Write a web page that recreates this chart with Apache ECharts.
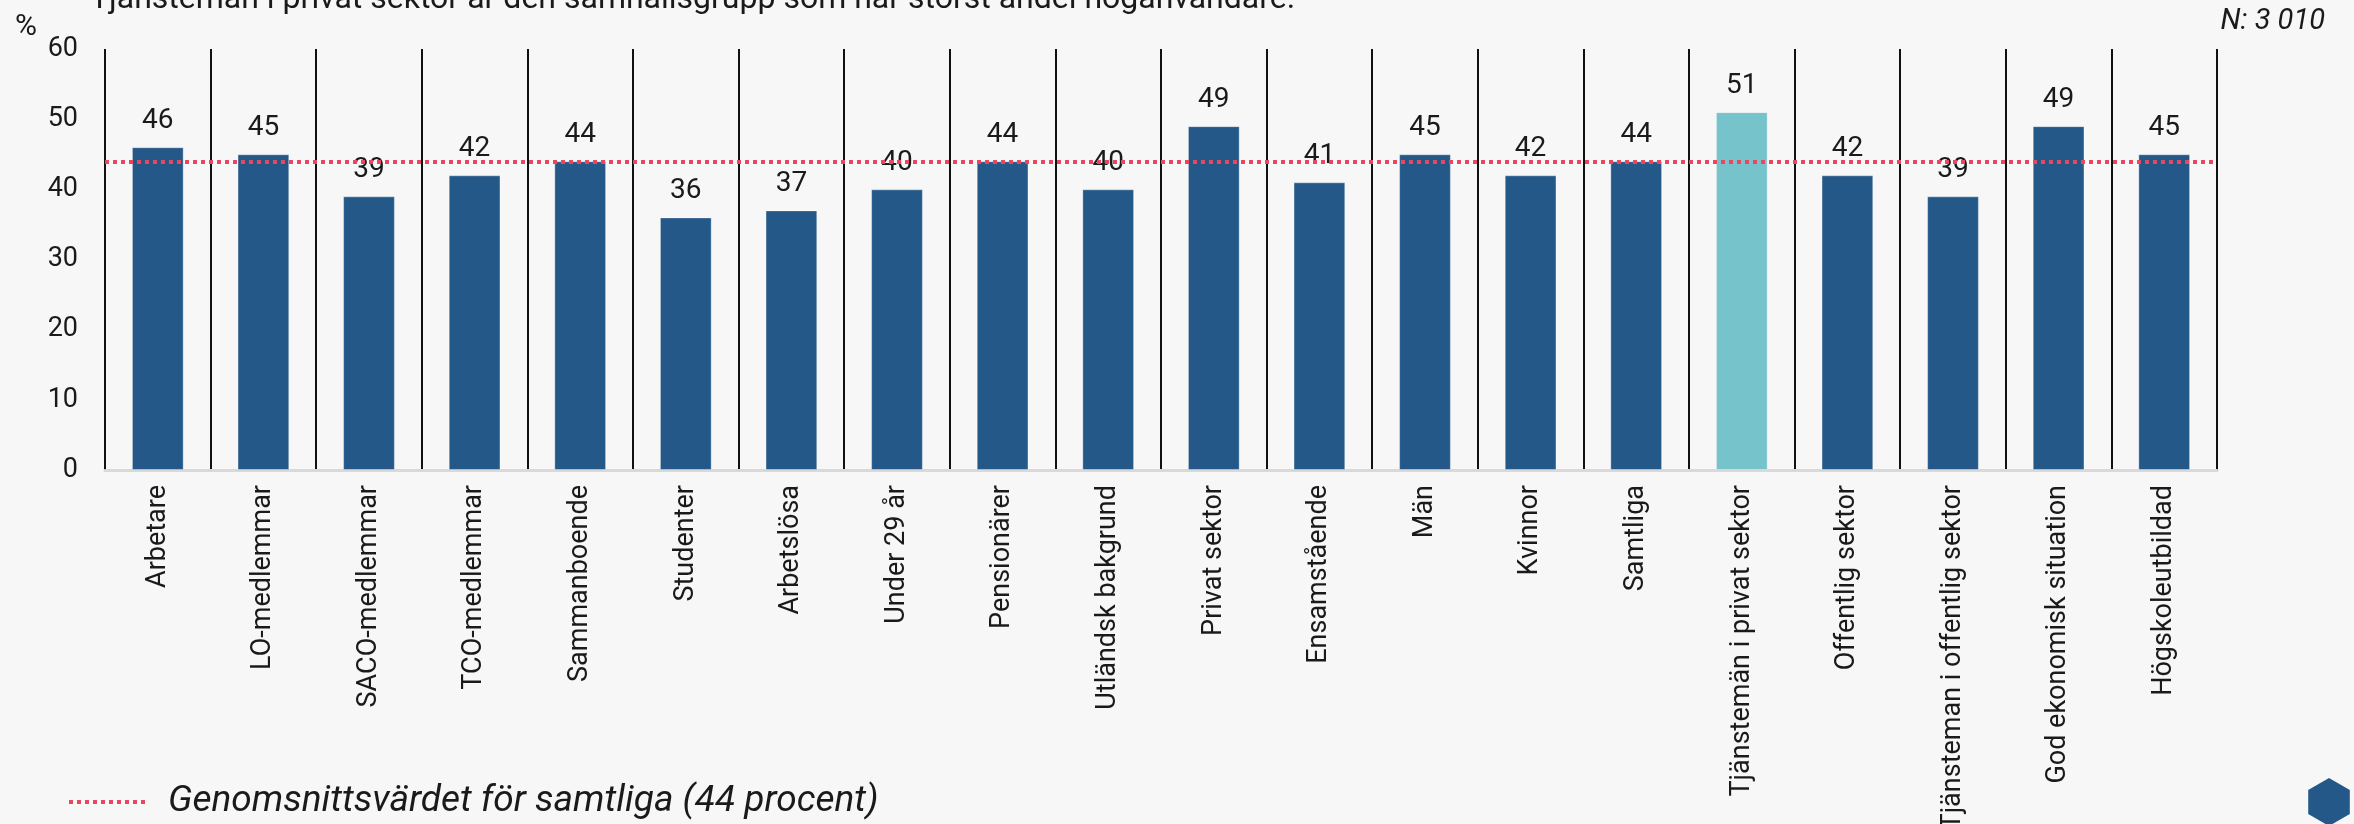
<!DOCTYPE html>
<html>
<head>
<meta charset="utf-8">
<script src="https://cdn.jsdelivr.net/npm/echarts@6/dist/echarts.min.js"></script>
<style>
html,body{margin:0;padding:0;background:#f7f7f7;}
#chart{width:2354px;height:824px;}
</style>
</head>
<body>
<div id="chart"></div>
<script>
const categories = ["Arbetare","LO-medlemmar","SACO-medlemmar","TCO-medlemmar","Sammanboende","Studenter","Arbetslösa","Under 29 år","Pensionärer","Utländsk bakgrund","Privat sektor","Ensamstående","Män","Kvinnor","Samtliga","Tjänstemän i privat sektor","Offentlig sektor","Tjänsteman i offentlig sektor","God ekonomisk situation","Högskoleutbildad"];
const values = [46,45,39,42,44,36,37,40,44,40,49,41,45,42,44,51,42,39,49,45];
const highlighted = ["Tjänstemän i privat sektor"];
const averageValue = 44;
const yTicks = [0,10,20,30,40,50,60];
const titleText = "Tjänsteman i privat sektor är den samhällsgrupp som har störst andel höganvändare.";
const noteText = "N: 3 010";
const legendText = "Genomsnittsvärdet för samtliga (44 procent)";

const FONT = "Roboto, 'Noto Sans', sans-serif";
const DARK = "#245889";
const TEAL = "#77c3cb";
const RED = "#e8475f";
const TXT = "#1a1a1a";

const chart = echarts.init(document.getElementById('chart'));
const data = values.map((v,i)=>({
  value: v,
  itemStyle: { color: highlighted.includes(categories[i]) ? TEAL : DARK }
}));

function hex(cx, cy, r){
  const pts=[];
  for(let k=0;k<6;k++){const a=Math.PI/180*(60*k-90);pts.push([cx+r*Math.cos(a), cy+r*Math.sin(a)]);}
  return pts;
}

chart.setOption({
  backgroundColor: '#f7f7f7',
  animation: false,
  textStyle: { fontFamily: FONT, color: TXT },
  grid: { left: 105, right: 137, top: 49, bottom: 354, containLabel: false, outerBoundsMode: 'none' },
  xAxis: {
    type: 'category',
    data: categories,
    boundaryGap: true,
    axisLine: { show: true, lineStyle: { color: '#d9d9d9', width: 3 } },
    axisTick: { show: false },
    splitLine: { show: true, interval: 0, lineStyle: { color: '#111', width: 2 } },
    axisLabel: { interval: 0, rotate: 90, margin: 15, fontSize: 27, color: TXT, fontFamily: FONT }
  },
  yAxis: {
    type: 'value',
    min: yTicks[0], max: yTicks[yTicks.length-1], interval: 10,
    axisLine: { show: false },
    axisTick: { show: false },
    splitLine: { show: false },
    axisLabel: { margin: 27, fontSize: 27, color: TXT, fontFamily: FONT }
  },
  series: [{
    type: 'bar',
    data: data,
    barWidth: '49%',
    itemStyle: { borderColor: 'rgba(255,255,255,0.35)', borderWidth: 1 },
    label: { show: true, position: 'top', distance: 12, fontSize: 28, color: TXT, fontFamily: FONT },
    markLine: {
      silent: true,
      symbol: ['none','none'],
      label: { show: false },
      lineStyle: { color: RED, width: 4, type: [4,4] },
      data: [{ yAxis: averageValue }]
    }
  }],
  graphic: [
    { type: 'text', left: 90, top: -16, style: { text: titleText, font: '32px ' + FONT, fill: TXT } },
    { type: 'text', x: 26, y: 27, style: { text: '%', font: '30px ' + FONT, fill: TXT, align: 'center', verticalAlign: 'middle' } },
    { type: 'text', x: 2325, y: 22, style: { text: noteText, font: 'italic 29px ' + FONT, fill: TXT, align: 'right', verticalAlign: 'middle' } },
    { type: 'line', shape: { x1: 69, y1: 802, x2: 148, y2: 802 }, style: { stroke: RED, lineWidth: 4, lineDash: [4,4] } },
    { type: 'text', x: 168, y: 802, style: { text: legendText, font: 'italic 37px ' + FONT, fill: TXT, align: 'left', verticalAlign: 'middle' } },
    { type: 'polygon', shape: { points: hex(2305, 850, 24) }, style: { fill: TEAL } },
    { type: 'polygon', shape: { points: hex(2372, 846, 24) }, style: { fill: '#6a2c91' } },
    { type: 'polygon', shape: { points: hex(2329, 802, 24) }, style: { fill: DARK } }
  ]
});
</script>
</body>
</html>
